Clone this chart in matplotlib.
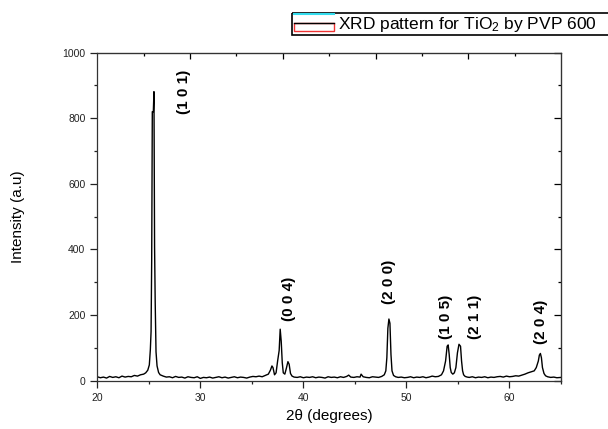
import numpy as np
import matplotlib.pyplot as plt
from matplotlib.patches import Rectangle
from matplotlib.ticker import MultipleLocator, FixedLocator

plt.rcParams['font.family'] = ['Liberation Sans', 'DejaVu Sans']
plt.rcParams['mathtext.fontset'] = 'custom'
plt.rcParams['mathtext.rm'] = 'Liberation Sans'
plt.rcParams['mathtext.it'] = 'Liberation Sans:italic'

# XRD pattern (2theta in degrees, intensity in a.u.)
two_theta = [
    20.0, 20.3, 20.6, 20.9, 21.2, 21.5, 21.8, 22.1, 22.4, 22.7, 23.0, 23.3, 23.6,
    23.9, 24.2, 24.5, 24.7, 24.9, 25.05, 25.15, 25.22, 25.28, 25.34, 25.40, 25.44,
    25.50, 25.56, 25.62, 25.70, 25.80, 25.95, 26.1, 26.4, 26.7, 27.0, 27.3, 27.6,
    27.9, 28.2, 28.5, 28.8, 29.1, 29.4, 29.7, 30.0, 30.3, 30.6, 30.9, 31.2, 31.5,
    31.8, 32.1, 32.4, 32.7, 33.0, 33.3, 33.6, 33.9, 34.2, 34.5, 34.8, 35.1, 35.4,
    35.7, 36.0, 36.3, 36.6, 36.8, 36.95, 37.05, 37.2, 37.35, 37.5, 37.65, 37.75,
    37.85, 37.95, 38.05, 38.2, 38.35, 38.5, 38.62, 38.75, 38.9, 39.1, 39.4, 39.7,
    40.0, 40.3, 40.6, 40.9, 41.2, 41.5, 41.8, 42.1, 42.4, 42.7, 43.0, 43.3, 43.6,
    43.9, 44.2, 44.4, 44.6, 44.9, 45.2, 45.5, 45.6, 45.8, 46.1, 46.4, 46.7, 47.0,
    47.3, 47.6, 47.85, 48.0, 48.1, 48.2, 48.3, 48.4, 48.5, 48.6, 48.75, 48.95, 49.2,
    49.5, 49.8, 50.1, 50.4, 50.7, 51.0, 51.3, 51.6, 51.9, 52.2, 52.5, 52.8, 53.1,
    53.4, 53.6, 53.8, 53.95, 54.05, 54.15, 54.25, 54.35, 54.5, 54.65, 54.8, 54.95,
    55.1, 55.25, 55.35, 55.45, 55.55, 55.7, 55.9, 56.1, 56.4, 56.7, 57.0, 57.3,
    57.6, 57.9, 58.2, 58.5, 58.8, 59.1, 59.4, 59.7, 60.0, 60.3, 60.6, 60.9, 61.2,
    61.5, 61.8, 62.1, 62.4, 62.6, 62.8, 62.9, 63.0, 63.1, 63.2, 63.35, 63.5, 63.7,
    64.0, 64.3, 64.6, 65.0,
]
intensity = [
    12, 9, 11, 8, 13, 10, 12, 9, 14, 11, 13, 12, 16,
    14, 18, 20, 24, 32, 48, 95, 150, 367, 820, 820, 820,
    881, 408, 240, 88, 45, 25, 18, 14, 11, 12, 9, 13,
    10, 11, 8, 12, 10, 9, 12, 7, 10, 9, 11, 8, 10,
    12, 9, 11, 8, 10, 12, 9, 11, 10, 8, 11, 13, 12,
    14, 12, 16, 20, 32, 45, 40, 18, 24, 60, 92, 157,
    120, 55, 24, 20, 38, 58, 50, 22, 14, 11, 10, 12,
    9, 11, 10, 12, 9, 11, 10, 8, 12, 10, 11, 9, 12,
    10, 13, 17, 11, 10, 12, 11, 20, 12, 10, 9, 12, 11,
    10, 13, 18, 30, 70, 160, 188, 175, 80, 30, 16, 12, 10,
    11, 9, 10, 12, 9, 11, 10, 12, 9, 11, 14, 12, 13,
    18, 30, 60, 105, 109, 80, 40, 25, 20, 24, 40, 85,
    111, 105, 60, 30, 18, 13, 11, 10, 12, 9, 11, 10,
    12, 9, 11, 10, 12, 13, 11, 14, 12, 13, 15, 14, 17,
    20, 24, 27, 30, 40, 60, 78, 83, 70, 40, 22, 15, 12,
    10, 11, 9, 10,
]

# peak labels (hkl) and where they sit
hkl = ['(1 0 1)', '(0 0 4)', '(2 0 0)', '(1 0 5)', '(2 1 1)', '(2 0 4)']
hkl_x = [28.45, 38.65, 48.3, 53.8, 56.7, 63.1]
hkl_y = [880, 250, 300, 195, 195, 180]

fig = plt.figure(figsize=(6.08, 4.29), dpi=100)
ax = fig.add_axes([0.16, 0.1126, 0.7627, 0.7647])

ax.plot(two_theta, intensity, color='black', lw=1.0)

ax.set_xlim(20, 65)
ax.set_ylim(0, 1000)
ax.xaxis.set_major_locator(MultipleLocator(10))
ax.xaxis.set_minor_locator(MultipleLocator(5))
ax.yaxis.set_major_locator(MultipleLocator(200))
ax.yaxis.set_minor_locator(MultipleLocator(100))
ax.tick_params(which='both', direction='out', top=False, right=False,
               labelsize=7.5, colors='#222222', width=0.9)
ax.tick_params(which='major', length=5)
ax.tick_params(which='minor', length=2.5)

# inward ticks on the right and top like Origin
sec_y = ax.secondary_yaxis('right')
sec_y.yaxis.set_major_locator(MultipleLocator(200))
sec_y.yaxis.set_minor_locator(MultipleLocator(100))
sec_y.tick_params(which='both', direction='in', labelright=False, width=0.9)
sec_y.tick_params(which='major', length=5)
sec_y.tick_params(which='minor', length=2.5)
sec_x = ax.secondary_xaxis('top')
sec_x.xaxis.set_major_locator(FixedLocator([29, 38, 47, 56]))
sec_x.xaxis.set_minor_locator(FixedLocator([24.5, 33.5, 42.5, 51.5, 60.5]))
sec_x.tick_params(which='both', direction='in', labeltop=False, width=0.9)
sec_x.tick_params(which='major', length=4)
sec_x.tick_params(which='minor', length=2.5)

for sp in ax.spines.values():
    sp.set_linewidth(0.9)
    sp.set_color('#333333')

ax.set_xlabel('2θ (degrees)', fontsize=11, labelpad=5)
ax.set_ylabel('Intensity (a.u)', fontsize=11, labelpad=27)

for lab, xx, yy in zip(hkl, hkl_x, hkl_y):
    ax.text(xx, yy, lab, rotation=90, ha='center', va='center',
            fontsize=11, fontweight='bold')

# legend box in pixel coordinates, running off the right edge
ov = fig.add_axes([0, 0, 1, 1], facecolor='none')
ov.set_xlim(0, 608)
ov.set_ylim(429, 0)
ov.axis('off')
ov.add_patch(Rectangle((291.5, 12.5), 330, 22.5, fill=False, ec='black', lw=1.2))
ov.add_patch(Rectangle((294, 22.5), 40, 8.5, fill=False, ec='#ee3333', lw=1))
ov.plot([294, 334], [13.5, 13.5], color='#33ddee', lw=1.5)
ov.plot([294, 334], [22.5, 22.5], color='black', lw=1)
ov.text(338, 24, 'XRD pattern for TiO$_2$ by PVP 600', fontsize=12.5,
        va='center', ha='left')

fig.savefig('out.png', dpi=100)
